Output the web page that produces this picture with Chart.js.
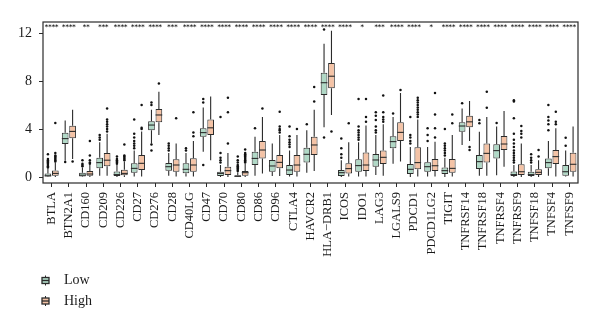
<!DOCTYPE html>
<html>
<head>
<meta charset="utf-8">
<script src="https://cdn.jsdelivr.net/npm/chart.js@4.4.1/dist/chart.umd.min.js"></script>
<style>
  html, body { margin: 0; padding: 0; background: #fff; }
  #wrap { position: relative; width: 600px; height: 329px; }
</style>
</head>
<body>
<div id="wrap"><canvas id="chart" width="600" height="329"></canvas></div>
<script>
// ── Data ───────────────────────────────────────────────────────────────────
const genes = ['BTLA','BTN2A1','CD160','CD209','CD226','CD27','CD276','CD28','CD40LG','CD47',
  'CD70','CD80','CD86','CD96','CTLA4','HAVCR2','HLA−DRB1','ICOS','IDO1','LAG3','LGALS9',
  'PDCD1','PDCD1LG2','TIGIT','TNFRSF14','TNFRSF18','TNFRSF4','TNFRSF9','TNFSF18','TNFSF4','TNFSF9'];

const stars = ['****','****','**','***','****','****','****','***','****','****',
  '****','****','****','****','****','****','****','****','*','***','****',
  '****','*','****','****','****','****','****','****','****','****'];

// [lower whisker, Q1, median, Q3, upper whisker]
const lowStats = [
  [0, 0.04, 0.1, 0.3, 0.7], [1.35, 2.75, 3.2, 3.68, 4.7], [0, 0.05, 0.15, 0.35, 0.8],
  [0.1, 0.72, 1.2, 1.6, 2.9], [0, 0.08, 0.2, 0.45, 1.0], [0.05, 0.36, 0.72, 1.14, 2.2],
  [2.8, 3.9, 4.33, 4.65, 5.6], [0.1, 0.53, 0.86, 1.17, 2.0], [0.05, 0.31, 0.64, 1.14, 2.0],
  [2.1, 3.35, 3.7, 4.06, 5.8], [0, 0.08, 0.3, 0.44, 1.0], [0, 0.02, 0.06, 0.15, 0.4],
  [0.1, 1.0, 1.55, 2.1, 3.36], [0.08, 0.44, 0.92, 1.42, 2.8], [0.05, 0.17, 0.58, 1.0, 2.2],
  [0.36, 1.2, 1.89, 2.44, 3.9], [4.14, 6.83, 7.86, 8.7, 11.1], [0, 0.08, 0.36, 0.58, 1.4],
  [0.05, 0.44, 0.95, 1.47, 2.9], [0.17, 0.86, 1.42, 1.92, 3.5], [1.1, 2.4, 2.95, 3.4, 5.0],
  [0, 0.25, 0.64, 1.08, 2.5], [0.05, 0.44, 0.86, 1.22, 2.5], [0, 0.25, 0.53, 0.8, 1.6],
  [2.67, 3.78, 4.25, 4.56, 5.72], [0.1, 0.67, 1.28, 1.83, 3.78], [0.15, 1.55, 2.2, 2.72, 4.2],
  [0, 0.08, 0.2, 0.45, 1.0], [0, 0.08, 0.2, 0.44, 1.0], [0.1, 0.72, 1.2, 1.55, 3.0],
  [0.05, 0.1, 0.44, 1.0, 2.2],
];
const highStats = [
  [0, 0.1, 0.3, 0.55, 1.2], [1.5, 3.22, 3.8, 4.28, 5.6], [0, 0.1, 0.25, 0.5, 1.0],
  [0.1, 0.9, 1.4, 2.0, 3.6], [0, 0.15, 0.3, 0.6, 1.3], [0.05, 0.58, 1.14, 1.83, 3.8],
  [3.5, 4.56, 5.17, 5.67, 7.1], [0.05, 0.44, 1.0, 1.47, 2.8], [0.05, 0.44, 1.0, 1.56, 3.0],
  [1.4, 3.5, 4.1, 4.8, 6.7], [0, 0.17, 0.53, 0.86, 2.0], [0, 0.1, 0.36, 0.5, 1.1],
  [0.3, 1.55, 2.25, 3.0, 5.0], [0.08, 0.72, 1.22, 1.83, 3.5], [0.05, 0.44, 1.0, 1.83, 3.5],
  [0.5, 1.83, 2.67, 3.36, 5.6], [5.17, 7.4, 8.4, 9.5, 12.2], [0.05, 0.3, 0.7, 1.14, 2.9],
  [0.05, 0.5, 1.0, 2.05, 4.3], [0.1, 1.08, 1.64, 2.2, 4.4], [1.3, 3.0, 3.72, 4.56, 7.0],
  [0.05, 0.64, 1.2, 2.47, 4.8], [0.05, 0.5, 0.94, 1.5, 2.94], [0.05, 0.36, 0.72, 1.5, 3.5],
  [3.0, 4.14, 4.6, 5.1, 6.33], [0.1, 1.2, 1.97, 2.8, 5.0], [0.86, 2.25, 2.75, 3.42, 5.5],
  [0, 0.17, 0.44, 1.06, 2.8], [0, 0.17, 0.39, 0.64, 1.4], [0.05, 1.08, 1.7, 2.25, 4.06],
  [0.05, 0.44, 1.06, 2.03, 4.2],
];

const lowOutliers = [
  [0.8, 0.9, 1.0, 1.1, 1.2, 1.3, 1.4, 1.5, 1.9], [1.25], [0.9, 1.0, 1.1, 1.4],
  [3.1, 3.3, 3.5], [1.1, 1.2, 1.3, 1.4, 1.5, 1.7], [2.4, 2.6, 2.8, 3.0, 3.3, 3.6, 4.8],
  [6.0, 6.2, 2.7, 2.2], [2.2, 2.4, 2.6, 2.8], [2.2, 2.4],
  [6.2, 6.5, 1.0], [1.2, 1.4, 1.6, 2.0, 5.0], [0.5, 0.6, 0.7, 0.8, 0.9, 1.0, 1.2, 1.4, 1.7],
  [4.06], [], [2.5, 2.7, 2.9, 3.1, 3.4, 4.2],
  [4.4], [12.3, 3.3], [1.6, 1.9, 2.4, 3.2],
  [3.1, 3.3, 3.5, 3.7, 3.9, 4.2, 6.5], [3.7, 3.9, 4.2, 4.75, 5.1, 5.4], [5.3],
  [2.8, 3.0, 3.3, 3.5, 5.0], [3.0, 3.5, 4.06], [1.8, 2.0, 2.2, 2.4, 2.6, 2.8, 4.0],
  [6.14], [4.47, 4.75], [4.5],
  [1.2, 1.4, 1.6, 1.8, 2.0, 2.2, 2.5, 2.8, 3.1, 3.6, 4.9, 6.3, 6.4], [1.2, 1.4, 1.6, 1.9], [3.9, 4.4, 4.7, 5.0, 6.0],
  [2.6, 3.28],
];
const highOutliers = [
  [1.3, 1.4, 1.5, 1.6, 1.7, 1.8, 2.0, 4.5], [1.3], [1.1, 1.2, 1.4, 1.8, 3.0],
  [3.8, 4.0, 4.2, 4.4, 4.6, 4.8, 5.7], [1.4, 1.5, 1.6, 1.7, 1.8, 2.7], [4.0, 4.1, 6.0],
  [7.8], [4.9], [3.4, 3.7, 5.4],
  [], [2.8, 5.4, 6.6], [1.2, 1.3, 1.4, 1.5, 1.6, 1.7, 1.8, 1.9, 2.0, 2.3],
  [5.7], [3.7, 3.9, 4.0, 4.2, 5.44], [4.0],
  [6.3, 7.5], [3.8], [4.47],
  [4.6, 5.0, 6.5], [4.6, 4.8, 5.0, 5.4, 6.8], [7.25],
  [5.0, 5.2, 5.4, 5.6, 5.8, 6.0, 6.2, 6.4, 6.6], [3.3, 4.06, 5.2, 7.0], [4.47, 5.2],
  [2.5, 2.25], [5.78, 7.1], [],
  [3.3, 3.6, 3.83, 4.25], [1.7, 2.25], [4.4, 4.6, 5.44],
  [],
];

const yTicks = [0, 4, 8, 12];

const LOW_FILL  = '#b0d8c6';
const HIGH_FILL = '#f4c3a6';
const INK       = '#2b2b2b';
const SERIF     = "'Liberation Serif', 'DejaVu Serif', serif";

// ── Whiskers, medians, outliers, stars, frame, legend ──────────────────────
const boxExtras = {
  id: 'boxExtras',
  afterDatasetsDraw(chart) {
    const ctx = chart.ctx;
    const y = chart.scales.y;
    chart.data.datasets.forEach((ds, di) => {
      const meta = chart.getDatasetMeta(di);
      meta.data.forEach((bar, i) => {
        const [mn, q1, md, q3, mx] = ds.stats[i];
        const half = bar.width / 2;
        ctx.save();
        ctx.strokeStyle = INK;
        ctx.lineWidth = 1.1;
        ctx.beginPath();
        ctx.moveTo(bar.x, y.getPixelForValue(mx));
        ctx.lineTo(bar.x, y.getPixelForValue(q3));
        ctx.moveTo(bar.x, y.getPixelForValue(q1));
        ctx.lineTo(bar.x, y.getPixelForValue(mn));
        ctx.stroke();
        const ym = y.getPixelForValue(md);
        ctx.beginPath();
        ctx.moveTo(bar.x - half, ym);
        ctx.lineTo(bar.x + half, ym);
        ctx.stroke();
        ctx.fillStyle = '#111';
        ds.outliers[i].forEach(v => {
          ctx.beginPath();
          ctx.arc(bar.x, y.getPixelForValue(v), 1.25, 0, Math.PI * 2);
          ctx.fill();
        });
        ctx.restore();
      });
    });

    // significance stars
    const x = chart.scales.x;
    ctx.save();
    ctx.fillStyle = '#222';
    ctx.font = 'bold 6.5px DejaVu Sans';
    ctx.textAlign = 'center';
    ctx.textBaseline = 'middle';
    stars.forEach((s, i) => ctx.fillText(s, x.getPixelForValue(i), y.getPixelForValue(12.5)));
    ctx.restore();
  },
  afterDraw(chart) {
    const ctx = chart.ctx;
    const a = chart.chartArea;
    ctx.save();
    ctx.strokeStyle = INK;
    ctx.lineWidth = 1.2;
    ctx.strokeRect(a.left, a.top, a.right - a.left, a.bottom - a.top);

    // legend
    chart.data.datasets.forEach((ds, di) => {
      const cy = 280.5 + di * 20.5;
      const cx = 45.5;
      ctx.strokeStyle = INK;
      ctx.lineWidth = 1;
      ctx.beginPath();
      ctx.moveTo(cx, cy - 5); ctx.lineTo(cx, cy + 5);
      ctx.stroke();
      ctx.fillStyle = ds.backgroundColor;
      ctx.fillRect(cx - 3.5, cy - 3, 7, 6);
      ctx.lineWidth = 1.3;
      ctx.strokeRect(cx - 3.5, cy - 3, 7, 6);
      ctx.beginPath();
      ctx.moveTo(cx - 3.5, cy); ctx.lineTo(cx + 3.5, cy);
      ctx.stroke();
      ctx.fillStyle = '#1a1a1a';
      ctx.font = '14px ' + SERIF;
      ctx.textAlign = 'left';
      ctx.textBaseline = 'middle';
      ctx.fillText(ds.label, 64, cy);
    });
    ctx.restore();
  },
};

// ── Chart ──────────────────────────────────────────────────────────────────
const ctx = document.getElementById('chart').getContext('2d');
new Chart(ctx, {
  type: 'bar',
  data: {
    labels: genes,
    datasets: [
      {
        label: 'Low',
        data: lowStats.map(s => [s[1], s[3]]),
        stats: lowStats,
        outliers: lowOutliers,
        backgroundColor: LOW_FILL,
        borderColor: INK,
        borderWidth: 1,
        borderSkipped: false,
        categoryPercentage: 0.86,
        barPercentage: 0.9,
      },
      {
        label: 'High',
        data: highStats.map(s => [s[1], s[3]]),
        stats: highStats,
        outliers: highOutliers,
        backgroundColor: HIGH_FILL,
        borderColor: INK,
        borderWidth: 1,
        borderSkipped: false,
        categoryPercentage: 0.86,
        barPercentage: 0.9,
      },
    ],
  },
  options: {
    responsive: false,
    animation: false,
    devicePixelRatio: 1,
    layout: { padding: { top: 22, right: 22, left: 0, bottom: 0 } },
    plugins: {
      legend: { display: false },
      tooltip: { enabled: false },
    },
    scales: {
      x: {
        offset: true,
        grid: { display: true, offset: false, drawOnChartArea: false, drawTicks: true, tickLength: 4, color: INK, lineWidth: 1 },
        border: { display: false },
        ticks: {
          autoSkip: false, minRotation: 90, maxRotation: 90, padding: 5,
          color: '#1a1a1a', font: { family: SERIF, size: 12.5 },
        },
        afterFit: s => { s.height = 146; },
      },
      y: {
        min: -0.5,
        max: 12.92,
        grid: { display: true, drawOnChartArea: false, drawTicks: true, tickLength: 4, color: INK, lineWidth: 1 },
        border: { display: false },
        ticks: { padding: 7, color: '#1a1a1a', font: { family: SERIF, size: 14 } },
        afterBuildTicks: s => { s.ticks = yTicks.map(v => ({ value: v })); },
        afterFit: s => { s.width = 43; },
      },
    },
  },
  plugins: [boxExtras],
});
</script>
</body>
</html>
